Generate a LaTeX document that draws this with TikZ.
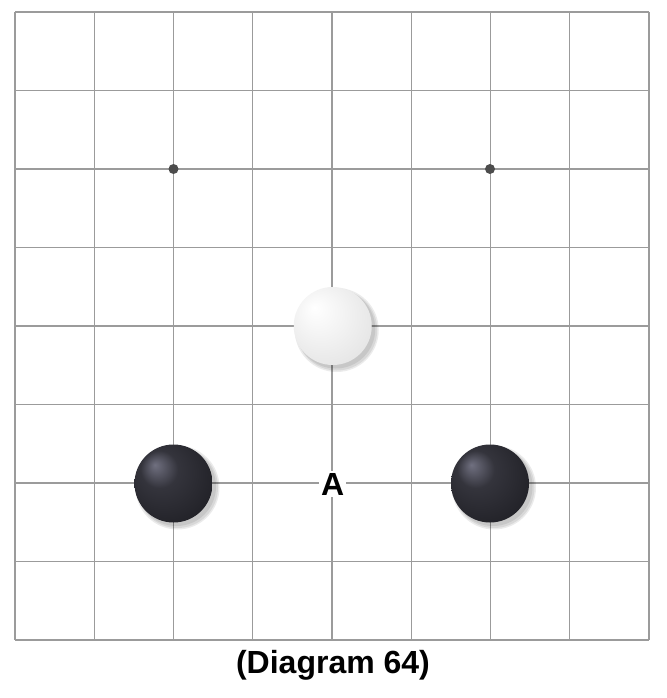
\documentclass[tikz,border=0pt]{standalone}
\usepackage{fontspec}
\setmainfont{Liberation Sans}
\definecolor{bsh}{RGB}{112,112,128}
\definecolor{bmid}{RGB}{52,52,60}
\definecolor{bdark}{RGB}{34,34,40}
\definecolor{bedge}{RGB}{14,14,18}
\definecolor{wsh}{RGB}{255,255,255}
\definecolor{wmid}{RGB}{244,244,244}
\definecolor{wdark}{RGB}{228,228,228}
\definecolor{wedge}{RGB}{200,200,200}
\definecolor{gridc}{RGB}{155,155,155}
\pgfdeclareradialshading{blackstone}{\pgfpoint{-12bp}{12bp}}{color(0bp)=(bsh); color(12bp)=(bmid); color(32bp)=(bdark); color(50bp)=(bedge)}
\pgfdeclareradialshading{whitestone}{\pgfpoint{-12bp}{12bp}}{color(0bp)=(wsh); color(14bp)=(wmid); color(34bp)=(wdark); color(50bp)=(wedge)}
\tikzset{
  gridline/.style={draw=gridc, line width=1.2pt},
  starpt/.style={circle, fill=black!70, minimum size=10pt, inner sep=0pt},
  stonebase/.style={circle, minimum size=78pt, inner sep=0pt},
  blackst/.style={stonebase, shading=blackstone},
  whitest/.style={stonebase, shading=whitestone},
  shadowc/.style={fill=black, opacity=0.08},
  lbl/.style={font=\bfseries\fontsize{32}{32}\selectfont, fill=white, inner sep=2pt},
  caption/.style={font=\bfseries\fontsize{32}{32}\selectfont, inner sep=0pt}
}
\begin{document}
\begin{tikzpicture}[x=1pt,y=-1pt]
\useasboundingbox (0,0) rectangle (666,698);
\fill[white] (0,0) rectangle (666,698);
\foreach \i in {0,...,8} {
  \draw[gridline] ({15+79.25*\i},12) -- ({15+79.25*\i},640);
  \draw[gridline] (15,{12+78.5*\i}) -- (649,{12+78.5*\i});
}
\node[starpt] (s1) at (173.5,169) {};
\node[starpt] (s2) at (490,169) {};
% shadows
\foreach \cx/\cy in {332.75/326, 173.5/483.5, 490/483.5} {
  \fill[shadowc] (\cx+4,\cy+4) circle (42);
  \fill[shadowc] (\cx+4,\cy+4) circle (40.5);
  \fill[shadowc] (\cx+3,\cy+3) circle (39.5);
}
\node[whitest] (w1) at (332.75,326) {};
\node[blackst] (b1) at (173.5,483.5) {};
\node[blackst] (b2) at (490,483.5) {};
\node[lbl] (A) at (332.75,484) {A};
\node[caption] (cap) at (333,665) {(Diagram 64)};
\end{tikzpicture}
\end{document}
